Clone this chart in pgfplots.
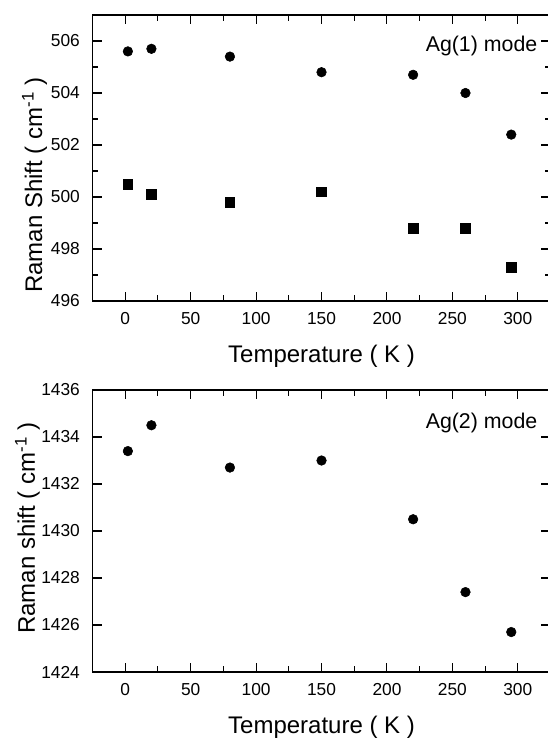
\documentclass[border=0pt]{standalone}
\usepackage{pgfplots}
\pgfplotsset{compat=1.18}
\usepackage{fontspec}
\setmainfont{Liberation Sans}

\pgfplotstableread{
T    c       s
2    505.6   500.5
20   505.7   500.1
80   505.4   499.8
150  504.8   500.2
220  504.7   498.8
260  504.0   498.8
295  502.4   497.3
}\agone

\pgfplotstableread{
T    c
2    1433.4
20   1434.5
80   1432.7
150  1433.0
220  1430.5
260  1427.4
295  1425.7
}\agtwo

\pgfplotsset{
  ramanstyle/.style={
    scale only axis,
    width=343.5pt,
    xmin=-25, xmax=325,
    xtick={0,50,...,300},
    minor x tick num=1,
    minor y tick num=1,
    tick align=inside,
    major tick length=7pt,
    minor tick length=4.3pt,
    every tick/.style={black, line width=0.8pt},
    axis line style={line width=1.3pt},
    /pgf/number format/assume math mode=true,
    /pgf/number format/.cd, set thousands separator={}, /pgfplots/.cd,
    tick label style={font=\fontsize{13}{15}\selectfont},
    xticklabel style={yshift=-5pt},
    yticklabel style={xshift=-6pt},
    every axis x label/.style={at={(axis description cs:0.5,-0.2165)}, anchor=base, font=\fontsize{18}{21}\selectfont},
    xlabel={Temperature ( K )},
  }
}

\begin{document}
\begin{tikzpicture}
\begin{axis}[ramanstyle,
  at={(69.4pt,-225.75pt)}, anchor=south west,
  height=214.5pt,
  ymin=496, ymax=507,
  ytick={496,498,...,506},
  ylabel={Raman Shift ( cm\textsuperscript{-1} )},
  every axis y label/.style={at={(axis description cs:-0.1103,0.4056)}, rotate=90, anchor=base, font=\fontsize{18}{21}\selectfont},
]
\addplot[only marks, mark=*, mark size=3.6pt, black] table[x=T, y=c] {\agone};
\addplot[only marks, mark=square*, mark size=3.6pt, black] table[x=T, y=s] {\agone};
\node[anchor=east, font=\fontsize{16}{18}\selectfont, inner sep=0pt] at (rel axis cs:0.9716,0.892) {Ag(1) mode};
\end{axis}

\begin{axis}[ramanstyle,
  at={(69.4pt,-504pt)}, anchor=south west,
  height=211.5pt,
  ymin=1424, ymax=1436,
  ytick={1424,1426,...,1436},
  ylabel={Raman shift ( cm\textsuperscript{-1} )},
  every axis y label/.style={at={(axis description cs:-0.1258,0.5106)}, rotate=90, anchor=base, font=\fontsize{18}{21}\selectfont},
]
\addplot[only marks, mark=*, mark size=3.6pt, black] table[x=T, y=c] {\agtwo};
\node[anchor=east, font=\fontsize{16}{18}\selectfont, inner sep=0pt] at (rel axis cs:0.9716,0.883) {Ag(2) mode};
\end{axis}

\pgfresetboundingbox
\useasboundingbox (0pt,0pt) rectangle (411pt,-554.25pt);
\end{tikzpicture}
\end{document}
